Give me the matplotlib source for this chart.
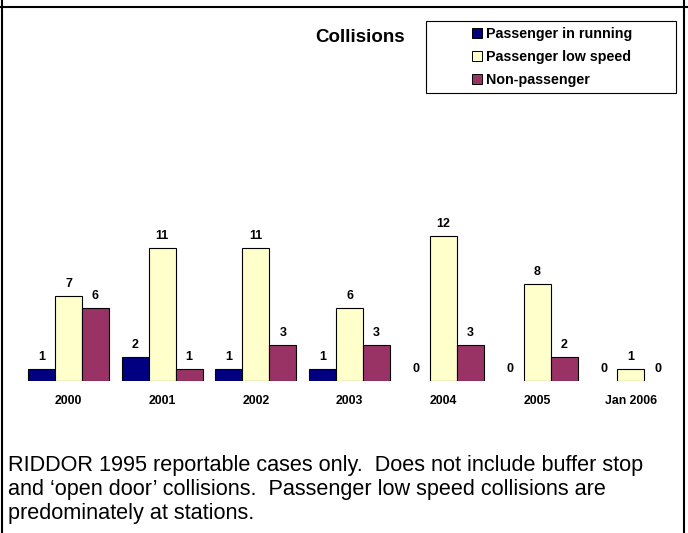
import matplotlib.pyplot as plt
from matplotlib.patches import Patch, Rectangle
from matplotlib.lines import Line2D

plt.rcParams['font.family'] = ['Liberation Sans', 'DejaVu Sans']

# Collisions per year, by type
years = ['2000', '2001', '2002', '2003', '2004', '2005', 'Jan 2006']
pass_running = [1, 2, 1, 1, 0, 0, 0]
pass_low_speed = [7, 11, 11, 6, 12, 8, 1]
non_passenger = [6, 1, 3, 3, 3, 2, 0]

series = [
    ('Passenger in running', pass_running, '#000080'),
    ('Passenger low speed', pass_low_speed, '#FFFFCC'),
    ('Non-passenger', non_passenger, '#993366'),
]

W, H = 688, 533
fig = plt.figure(figsize=(W / 100, H / 100), dpi=100)

# plot area in pixels: baseline at y=381, ~12.1 px per collision
ax = fig.add_axes([21.6 / W, 152 / H, 656 / W, 14 * 12.12 / H])
ax.set_xlim(-0.5, len(years) - 0.5)
ax.set_ylim(0, 14)
ax.axis('off')

bw = 0.288
x = list(range(len(years)))
for k, (name, vals, col) in enumerate(series):
    pos = [i + (k - 1) * bw for i in x]
    lws = [0.8 if v > 0 else 0 for v in vals]
    ax.bar(pos, vals, width=bw, color=col, edgecolor='black', linewidth=lws)
    for px, v in zip(pos, vals):
        ax.annotate(str(v), (px, v), xytext=(0, 8.6), textcoords='offset points',
                    ha='center', va='center', fontsize=9, fontweight='bold')

for i, yr in zip(x, years):
    ax.annotate(yr, (i, 0), xycoords=('data', 'axes fraction'), xytext=(0, -14.4),
                textcoords='offset points', ha='center', va='center',
                fontsize=8.8, fontweight='bold')

fig.text(360 / W, 1 - 37 / H, 'Collisions', ha='center', va='center',
         fontsize=13.5, fontweight='bold')

# legend box drawn separately so it can be wider than its entries
fig.add_artist(Rectangle((426 / W, 1 - 93 / H), 250 / W, 72 / H,
                         transform=fig.transFigure, facecolor='white',
                         edgecolor='black', linewidth=0.8))
handles = [Patch(facecolor=c, edgecolor='black', linewidth=0.7) for _, _, c in series]
fig.legend(handles, [s[0] for s in series], loc='upper left',
           bbox_to_anchor=(472 / W, 1 - 27 / H), bbox_transform=fig.transFigure,
           frameon=False, borderpad=0, borderaxespad=0,
           handlelength=0.7, handleheight=0.7, handletextpad=0.28,
           labelspacing=0.62, prop={'size': 10.3, 'weight': 'bold'})

notes = [
    'RIDDOR 1995 reportable cases only.  Does not include buffer stop',
    'and \u2018open door\u2019 collisions.  Passenger low speed collisions are',
    'predominately at stations.',
]
for j, line in enumerate(notes):
    fig.text(8 / W, 1 - (465 + 24 * j) / H, line, ha='left', va='center',
             fontsize=15.6)

# outer frame lines
for xx in (2, 684):
    fig.add_artist(Line2D([xx / W, xx / W], [0, 1], transform=fig.transFigure,
                          color='black', linewidth=1.5))
fig.add_artist(Line2D([0, 1], [1 - 6.5 / H, 1 - 6.5 / H], transform=fig.transFigure,
                      color='black', linewidth=1.5))

fig.savefig('out.png', dpi=100)
